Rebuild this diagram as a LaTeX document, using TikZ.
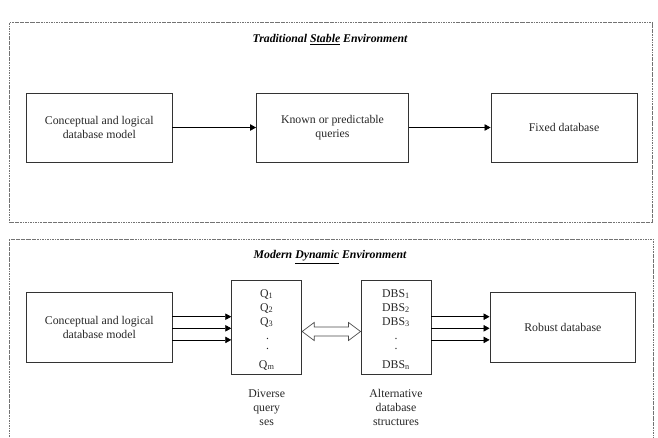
\documentclass[tikz,border=0pt]{standalone}
\usepackage{fontspec}
\setmainfont{Liberation Serif}
\usetikzlibrary{arrows.meta,calc}
\newcommand{\dgfs}{\fontsize{11.8}{14}\selectfont}
\newcommand{\vdotpair}{\begin{tabular}[t]{@{}c@{}}.\\[-4pt].\end{tabular}}
\begin{document}
\begin{tikzpicture}[x=1pt,y=-1pt,
  box/.style={draw=black!80,line width=0.9pt,inner sep=0pt,align=center,font=\dgfs,text=black!85},
  lbl/.style={inner sep=0pt,align=center,font=\dgfs,text=black!85},
  ttl/.style={inner sep=0pt,font=\dgfs\bfseries\itshape,text=black},
  frame/.style={draw=black!55,line width=0.5pt,dash pattern=on 2.5pt off 0.8pt on 0.8pt off 0.8pt},
  arr/.style={draw=black,line width=0.7pt,-{Triangle[length=6pt,width=6.5pt]}},
  hollow/.style={draw=black!70,line width=0.7pt,fill=white,line join=miter}]
\useasboundingbox (0,0) rectangle (658,437);

% frames
\draw[frame] (9.3,22.7) rectangle (652,222.7);
\draw[frame] (9.3,437) -- (9.3,239.3) -- (653,239.3) -- (653,437);

% top environment
\node[ttl] (t1) at (330,39.3) {Traditional \underline{Stable} Environment};
\node[box,minimum width=145.3pt,minimum height=69pt] (b1) at (99.35,127.5) {Conceptual and logical\\database model};
\node[box,minimum width=152pt,minimum height=69pt] (b2) at (332.5,127.5) {Known or predictable\\queries};
\node[box,minimum width=146pt,minimum height=69pt] (b3) at (564,127.5) {Fixed database};
\draw[arr] (b1) -- (b2);
\draw[arr] (b2) -- (b3);

% bottom environment
\node[ttl] (t2) at (330,257) {Modern \underline{Dynamic} Environment};
\node[box,minimum width=145.3pt,minimum height=69.3pt] (c1) at (99.35,327.35) {Conceptual and logical\\database model};
\node[box,minimum width=70pt,minimum height=93.6pt] (q) at (266.7,327.5) {};
\node[box,minimum width=70pt,minimum height=93.6pt] (d) at (396,327.5) {};
\node[box,minimum width=145.7pt,minimum height=70pt] (r) at (562.85,327.3) {Robust database};

% contents of Q box
\node[lbl,anchor=base] (q1) at (266.7,297) {Q\textsubscript{1}};
\node[lbl,anchor=base] (q2) at (266.7,311) {Q\textsubscript{2}};
\node[lbl,anchor=base] (q3) at (266.7,325) {Q\textsubscript{3}};
\node[lbl,anchor=base] (qd) at (267.7,339.5) {\vdotpair};
\node[lbl,anchor=base] (qm) at (266.7,368) {Q\textsubscript{m}};
% contents of DBS box
\node[lbl,anchor=base] (d1) at (396,297) {DBS\textsubscript{1}};
\node[lbl,anchor=base] (d2) at (396,311) {DBS\textsubscript{2}};
\node[lbl,anchor=base] (d3) at (396,325) {DBS\textsubscript{3}};
\node[lbl,anchor=base] (dd) at (396,339.5) {\vdotpair};
\node[lbl,anchor=base] (dn) at (396,368) {DBS\textsubscript{n}};

% captions
\node[lbl] (qc) at ($(q.south)+(0,32.5)$) {Diverse\\query\\ses};
\node[lbl] (dc) at ($(d.south)+(0,32.5)$) {Alternative\\database\\structures};

% triple arrows
\coordinate (a1) at (0,316.7);
\coordinate (a2) at (0,328.3);
\coordinate (a3) at (0,339.9);
\foreach \a in {a1,a2,a3}{
  \draw[arr] (c1.east |- \a) -- (q.west |- \a);
  \draw[arr] (d.east |- \a) -- (r.west |- \a);
}

% hollow double arrow
\coordinate (m) at (0,331.5);
\draw[hollow] (q.east |- m)
  -- ($(q.east |- m)+(12,-9)$) -- ($(q.east |- m)+(12,-4.5)$)
  -- ($(d.west |- m)+(-12,-4.5)$) -- ($(d.west |- m)+(-12,-9)$)
  -- (d.west |- m)
  -- ($(d.west |- m)+(-12,9)$) -- ($(d.west |- m)+(-12,4.5)$)
  -- ($(q.east |- m)+(12,4.5)$) -- ($(q.east |- m)+(12,9)$)
  -- cycle;
\end{tikzpicture}
\end{document}
